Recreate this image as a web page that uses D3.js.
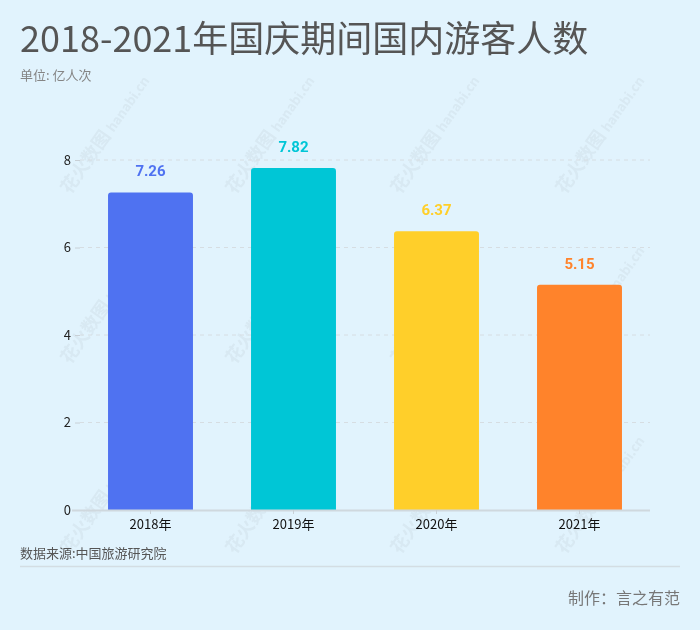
<!DOCTYPE html>
<html><head><meta charset="utf-8">
<script src="https://cdn.jsdelivr.net/npm/d3@7"></script>
<style>
body{margin:0;background:#E1F3FD;}
svg{display:block;font-family:"Noto Sans CJK SC","Noto Sans",sans-serif;}
</style></head><body>
<svg id="c" width="700" height="630"></svg>
<script>
const categories = ["2018年","2019年","2020年","2021年"];
const values = [7.26, 7.82, 6.37, 5.15];
const colors = ["#4F72F1","#00C6D6","#FFCF2A","#FF832B"];
const yTicks = [0,2,4,6,8];

const svg = d3.select("#c");
svg.append("rect").attr("width",700).attr("height",630).attr("fill","#E1F3FD");

// watermarks
const wm = svg.append("g").attr("fill","#c9d6de").attr("opacity",0.35);
[[70,195],[235,195],[400,195],[565,195],[70,365],[235,365],[400,365],[565,365],[70,555],[235,555],[400,555],[565,555]].forEach(([x,y])=>{
  const g = wm.append("g").attr("transform",`translate(${x},${y}) rotate(-55)`);
  g.append("text").attr("font-size",18).attr("font-weight","bold").text("花火数图");
  g.append("text").attr("x",76).attr("font-size",13).attr("font-weight","bold").text("hanabi.cn");
});

svg.append("text").attr("x",20).attr("y",52).attr("font-size",36).attr("fill","#555").text("2018-2021年国庆期间国内游客人数");
svg.append("text").attr("x",20).attr("y",80).attr("font-size",13).attr("fill","#858585").text("单位: 亿人次");

const x = d3.scaleBand().domain(categories).range([79,651]).paddingInner(0.406).paddingOuter(0.203);
const y = d3.scaleLinear().domain([0,8]).range([510,160]);

// grid
svg.append("g").selectAll("line").data(yTicks.filter(d=>d>0)).join("line")
  .attr("x1",80).attr("x2",650).attr("y1",d=>y(d)).attr("y2",d=>y(d))
  .attr("stroke","#d6dde2").attr("stroke-dasharray","4,4");

// y axis
const ya = svg.append("g").attr("transform","translate(80,0)")
  .call(d3.axisLeft(y).tickValues(yTicks).tickSize(5).tickPadding(4));
ya.select(".domain").remove();
ya.selectAll("line").attr("stroke","#c8d0d6");
ya.selectAll("text").attr("font-size",13).attr("fill","#222").attr("font-family","'Noto Sans CJK SC',sans-serif");

// bars
svg.append("g").selectAll("path").data(values).join("path")
  .attr("fill",(d,i)=>colors[i])
  .attr("d",(d,i)=>{
    const x0=x(categories[i]), w=x.bandwidth(), y0=y(d), y1=y(0), r=3;
    return `M${x0},${y1}V${y0+r}Q${x0},${y0} ${x0+r},${y0}H${x0+w-r}Q${x0+w},${y0} ${x0+w},${y0+r}V${y1}Z`;
  });

// labels
svg.append("g").selectAll("text").data(values).join("text")
  .attr("x",(d,i)=>x(categories[i])+x.bandwidth()/2).attr("y",d=>y(d)-16)
  .attr("text-anchor","middle").attr("font-size",15).attr("font-weight","bold")
  .attr("font-family","Roboto,'Noto Sans',sans-serif")
  .attr("fill",(d,i)=>colors[i]).text(d=>d.toFixed(2));

// x axis
const xa = svg.append("g").attr("transform","translate(0,510)")
  .call(d3.axisBottom(x).tickSize(4).tickPadding(6));
xa.select(".domain").attr("d","M72,0.5H650").attr("stroke","#cfd8de").attr("stroke-width",2);
xa.selectAll("line").attr("stroke","#c8d0d6");
xa.selectAll("text").attr("font-size",13).attr("fill","#111").attr("font-family","'Noto Sans CJK SC',sans-serif");

// footer
svg.append("text").attr("x",20).attr("y",558).attr("font-size",13).attr("fill","#555").text("数据来源:中国旅游研究院");
svg.append("line").attr("x1",20).attr("x2",680).attr("y1",566.5).attr("y2",566.5).attr("stroke","#d3dde3").attr("stroke-width",1.5);
svg.append("text").attr("x",680).attr("y",604).attr("text-anchor","end").attr("font-size",16).attr("fill","#777").text("制作：言之有范");
</script></body></html>
